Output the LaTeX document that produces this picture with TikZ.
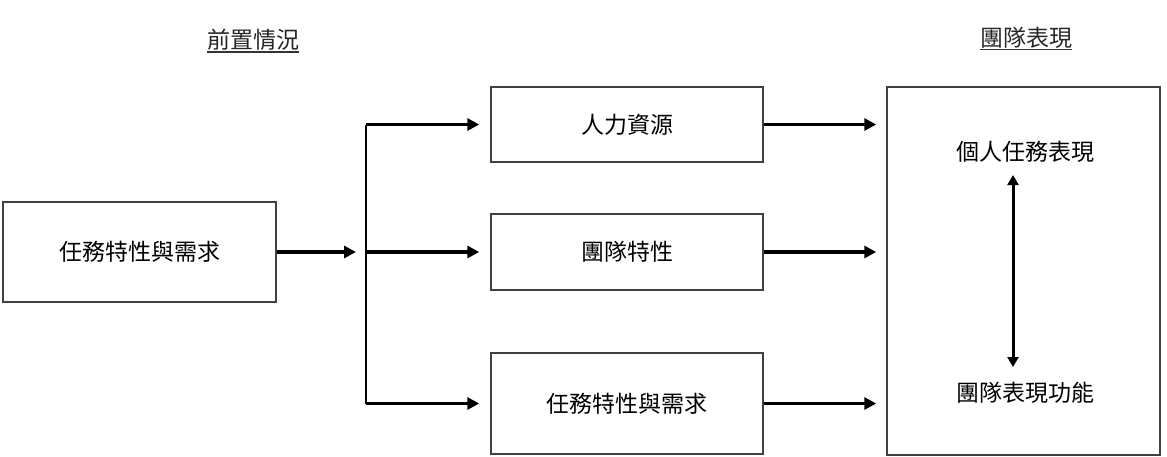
\documentclass[tikz,border=0pt]{standalone}
\usepackage{fontspec}
\newfontfamily\cjk{Noto Sans CJK TC}
\usetikzlibrary{arrows.meta}
\begin{document}
\begin{tikzpicture}[x=1pt,y=-1pt,
  font=\cjk\fontsize{23}{27}\selectfont,
  box/.style={draw=black!75, line width=1.5pt, inner sep=0pt},
  arr/.style={line width=3.6pt, -{Triangle[length=12pt,width=12pt]}},
  darr/.style={line width=3pt, {Triangle[length=10pt,width=11pt]}-{Triangle[length=10pt,width=11pt]}},
  link/.style={line width=1.6pt},
  title/.style={inner sep=0pt, text=black!85},
  uline/.style={line width=1.2pt, black!80}]
\useasboundingbox (0,0) rectangle (1167,456);
\fill[white] (0,0) rectangle (1167,456);

% titles
\node[title] (h1) at (253,40) {前置情況};
\node[title] (h2) at (1026,38) {團隊表現};
\draw[uline] ([yshift=-1pt]h1.south west) -- ([yshift=-1pt]h1.south east);
\draw[uline] ([yshift=-1pt]h2.south west) -- ([yshift=-1pt]h2.south east);

% boxes
\node[box, minimum width=273pt, minimum height=100pt] (l) at (139.5,252) {任務特性與需求};
\node[box, minimum width=272pt, minimum height=75pt] (b1) at (627,124.5) {人力資源};
\node[box, minimum width=272pt, minimum height=76pt] (b2) at (627,252) {團隊特性};
\node[box, minimum width=272pt, minimum height=101pt] (b3) at (627,403.5) {任務特性與需求};
\node[box, minimum width=273pt, minimum height=368pt] (r) at (1023.5,271) {};

\node (t1) at (1025,152) {個人任務表現};
\node (t2) at (1025,393) {團隊表現功能};

% split
\coordinate (split) at (366,252);
\draw[arr, shorten >=10pt] (l.east) -- (split);
\draw[link] (b1.west -| split) -- (b3.west -| split);
\draw[arr, shorten >=11pt] (b1.west -| split) -- (b1.west);
\draw[arr, shorten >=11pt] (b2.west -| split) -- (b2.west);
\draw[arr, shorten >=11pt] (b3.west -| split) -- (b3.west);

% to right box
\draw[arr, shorten >=10pt] (b1.east) -- (b1.east -| r.west);
\draw[arr, shorten >=10pt] (b2.east) -- (b2.east -| r.west);
\draw[arr, shorten >=10pt] (b3.east) -- (b3.east -| r.west);

% double arrow
\coordinate (da1) at (1013,175);
\coordinate (da2) at (1013,367);
\draw[darr] (da1) -- (da2);
\end{tikzpicture}
\end{document}
